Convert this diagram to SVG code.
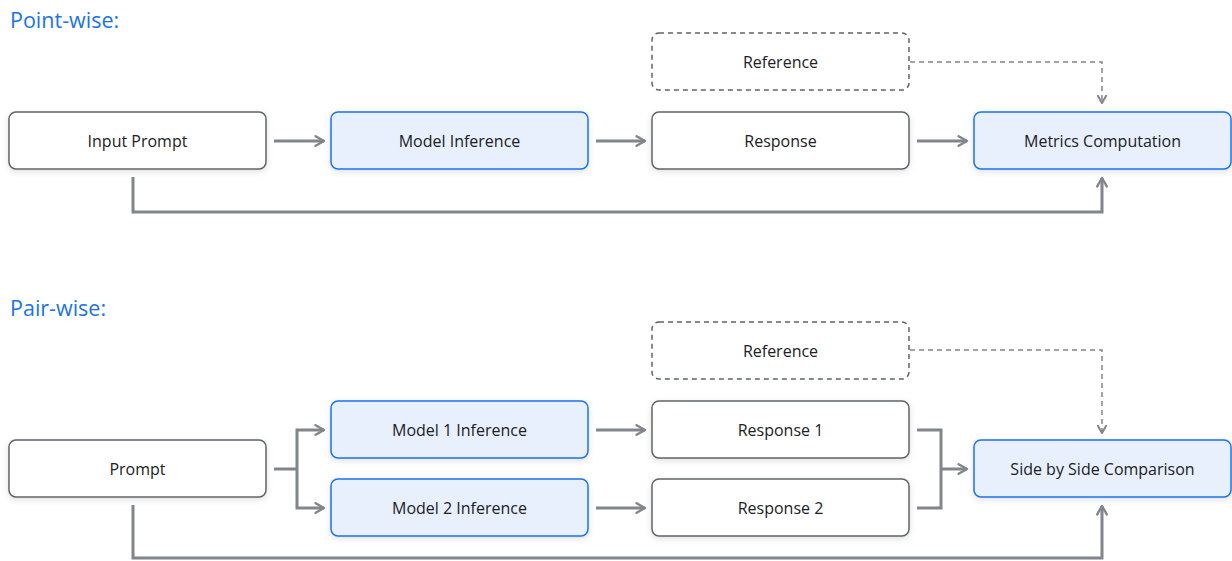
<svg xmlns="http://www.w3.org/2000/svg" width="1232" height="561" viewBox="0 0 1232 561">
<style>
.t{font-family:"Open Sans","Noto Sans",sans-serif;font-size:16px;font-weight:500;fill:#202124;text-anchor:middle;dominant-baseline:central}
.h{font-family:"Open Sans","Noto Sans",sans-serif;font-size:21.5px;font-weight:500;fill:#1a73e8}
.w{fill:#ffffff;stroke:#5f6368;stroke-width:1.5}
.b{fill:#e8f0fe;stroke:#1a73e8;stroke-width:1.5}
.d{fill:#ffffff;stroke:#5f6368;stroke-width:1.5;stroke-dasharray:5 4}
.c{fill:none;stroke:#80868b;stroke-width:3}
.cd{fill:none;stroke:#80868b;stroke-width:1.5;stroke-dasharray:5 4}
</style>
<defs>
<filter id="sh" x="-10%" y="-30%" width="120%" height="170%">
<feDropShadow dx="0" dy="2" stdDeviation="3" flood-color="#000" flood-opacity="0.12"/>
</filter>
<marker id="a" viewBox="0 0 10 10" refX="8" refY="5" markerWidth="4" markerHeight="4" orient="auto" markerUnits="strokeWidth">
<path d="M1,1 L8,5 L1,9" fill="none" stroke="#80868b" stroke-width="2" stroke-linecap="round" stroke-linejoin="round"/>
</marker>
<marker id="ad" viewBox="0 0 10 10" refX="8" refY="5" markerWidth="7" markerHeight="7" orient="auto" markerUnits="strokeWidth">
<path d="M1,1 L8,5 L1,9" fill="none" stroke="#80868b" stroke-width="2" stroke-linecap="round" stroke-linejoin="round"/>
</marker>
</defs>
<rect width="1232" height="561" fill="#ffffff"/>
<text class="h" x="10" y="28">Point-wise:</text>
<text class="h" x="10" y="316">Pair-wise:</text>
<g id="connectors">
<path class="c" d="M274,141 H324" marker-end="url(#a)"/>
<path class="c" d="M596,141 H645" marker-end="url(#a)"/>
<path class="c" d="M917,141 H967" marker-end="url(#a)"/>
<path class="c" d="M133,177 V212 H1102 V178" marker-end="url(#a)"/>
<path class="cd" d="M910,62 H1102 V103" marker-end="url(#ad)"/>
<path class="c" d="M274,469 H297"/>
<path class="c" d="M297,469 V430 H324" marker-end="url(#a)"/>
<path class="c" d="M297,469 V508 H324" marker-end="url(#a)"/>
<path class="c" d="M596,430 H645" marker-end="url(#a)"/>
<path class="c" d="M596,508 H645" marker-end="url(#a)"/>
<path class="c" d="M917,430 H941 V508 H917"/>
<path class="c" d="M941,469 H967" marker-end="url(#a)"/>
<path class="c" d="M133,505 V558 H1102 V506" marker-end="url(#a)"/>
<path class="cd" d="M910,350 H1102 V433" marker-end="url(#ad)"/>
</g>
<g id="input-prompt"><rect class="w" x="9" y="112" width="257" height="57" rx="7" filter="url(#sh)"/><text class="t" x="137.5" y="140.5">Input Prompt</text></g>
<g id="model-inference"><rect class="b" x="331" y="112" width="257" height="57" rx="7" filter="url(#sh)"/><text class="t" x="459.5" y="140.5">Model Inference</text></g>
<g id="reference-1"><rect class="d" x="652" y="33" width="257" height="57" rx="7"/><text class="t" x="780.5" y="61.5">Reference</text></g>
<g id="response"><rect class="w" x="652" y="112" width="257" height="57" rx="7" filter="url(#sh)"/><text class="t" x="780.5" y="140.5">Response</text></g>
<g id="metrics-computation"><rect class="b" x="974" y="112" width="257" height="57" rx="7" filter="url(#sh)"/><text class="t" x="1102.5" y="140.5">Metrics Computation</text></g>
<g id="prompt"><rect class="w" x="9" y="440" width="257" height="57" rx="7" filter="url(#sh)"/><text class="t" x="137.5" y="468.5">Prompt</text></g>
<g id="model-1-inference"><rect class="b" x="331" y="401" width="257" height="57" rx="7" filter="url(#sh)"/><text class="t" x="459.5" y="429.5">Model 1 Inference</text></g>
<g id="model-2-inference"><rect class="b" x="331" y="479" width="257" height="57" rx="7" filter="url(#sh)"/><text class="t" x="459.5" y="507.5">Model 2 Inference</text></g>
<g id="reference-2"><rect class="d" x="652" y="322" width="257" height="57" rx="7"/><text class="t" x="780.5" y="350.5">Reference</text></g>
<g id="response-1"><rect class="w" x="652" y="401" width="257" height="57" rx="7" filter="url(#sh)"/><text class="t" x="780.5" y="429.5">Response 1</text></g>
<g id="response-2"><rect class="w" x="652" y="479" width="257" height="57" rx="7" filter="url(#sh)"/><text class="t" x="780.5" y="507.5">Response 2</text></g>
<g id="side-by-side"><rect class="b" x="974" y="440" width="257" height="57" rx="7" filter="url(#sh)"/><text class="t" x="1102.5" y="468.5">Side by Side Comparison</text></g>
</svg>
